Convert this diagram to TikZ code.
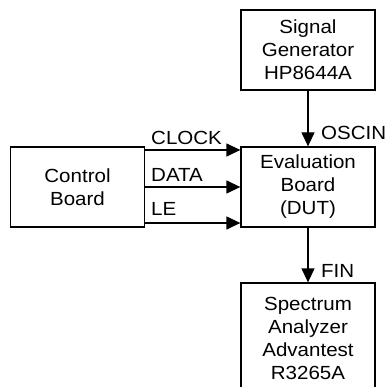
\documentclass[tikz,border=0pt]{standalone}
\usepackage{fontspec}
\setmainfont{Liberation Sans}[FakeStretch=1.08]
\usetikzlibrary{arrows.meta}

\begin{document}
\begin{tikzpicture}[x=1pt, y=-1pt,
    box/.style={draw, line width=1.3pt, minimum width=134pt, minimum height=80pt,
      align=center, inner sep=0pt, font=\fontsize{19}{23}\selectfont},
    lbl/.style={inner sep=0pt, anchor=base west, font=\fontsize{19}{23}\selectfont},
    sig/.style={line width=1.3pt, -{Triangle[length=14pt, width=13pt]}}]
    \useasboundingbox (0,0) rectangle (390,387);
    \clip (0,0) rectangle (390,387);

    % 方框
    \node[box] (gen) at (308,50) {Signal\\Generator\\HP8644A};
    \node[box] (ctrl) at (77.5,187) {Control\\Board};
    \node[box] (eval) at (308,187) {Evaluation\\Board\\(DUT)};
    \node[box, minimum height=110pt] (spec) at (308,338) {Spectrum\\Analyzer\\Advantest\\R3265A};

    % 信号线
    \draw[sig] (gen) -- (eval);
    \draw[sig] (eval) -- (spec);
    \draw[sig] (ctrl.east |- 0,150) -- (eval.west |- 0,150);
    \draw[sig] (ctrl.east |- 0,187) -- (eval.west |- 0,187);
    \draw[sig] (ctrl.east |- 0,223) -- (eval.west |- 0,223);

    % 标签
    \node[lbl] (clk) at (151,145) {CLOCK};
    \node[lbl] (dat) at (151,182) {DATA};
    \node[lbl] (le) at (151,215) {LE};
    \node[lbl] (osc) at (321,140) {OSCIN};
    \node[lbl] (fin) at (321,277) {FIN};
\end{tikzpicture}
\end{document}
